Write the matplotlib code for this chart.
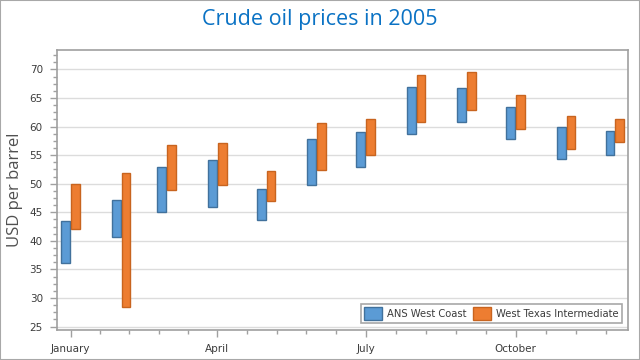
import datetime as dt
import matplotlib
matplotlib.use("Agg")
import matplotlib.pyplot as plt
import matplotlib.dates as mdates
from matplotlib.patches import Rectangle
from matplotlib.ticker import MultipleLocator, FixedLocator

months = ["January", "February", "March", "April", "May", "June",
          "July", "August", "September", "October", "November", "December"]
ans_low = [36.1, 40.7, 45.0, 46.0, 43.7, 49.8, 52.9, 58.75, 60.85, 57.75, 54.26, 55.1]
ans_high = [43.4, 47.1, 52.9, 54.1, 49.0, 57.9, 59.0, 67.0, 66.7, 63.35, 60.0, 59.15]
wti_low = [42.1, 28.4, 48.95, 49.7, 46.9, 52.45, 54.95, 60.85, 62.95, 59.6, 56.1, 57.35]
wti_high = [49.9, 51.8, 56.7, 57.2, 52.2, 60.55, 61.25, 68.95, 69.5, 65.45, 61.8, 61.25]
series_names = ["ANS West Coast", "West Texas Intermediate"]
major_labels = ["January", "April", "July", "October"]

dates = [dt.datetime(2005, i + 1, 1) for i in range(12)]
xnum = mdates.date2num(dates)

fig = plt.figure(figsize=(6.4, 3.6), dpi=100)
fig.patch.set_facecolor("white")
fig.patches.append(Rectangle((0, 0), 1, 1, transform=fig.transFigure,
                             fill=False, edgecolor="#A8A8A8", linewidth=1.5))
ax = fig.add_axes([56.7 / 640, 1 - 330 / 360, (628 - 56.7) / 640, 280 / 360])

bw = 5.4
off = 3.0
blue, blue_e = "#5B9BD5", "#41719C"
orange, orange_e = "#ED7D31", "#C8641F"
ax.bar(xnum - off, [h - l for h, l in zip(ans_high, ans_low)], bottom=ans_low,
       width=bw, color=blue, edgecolor=blue_e, linewidth=1, label=series_names[0], zorder=3)
ax.bar(xnum + off, [h - l for h, l in zip(wti_high, wti_low)], bottom=wti_low,
       width=bw, color=orange, edgecolor=orange_e, linewidth=1, label=series_names[1], zorder=3)

x0 = xnum[0]
ax.set_xlim(x0 - 8.5, x0 + 342)
ax.set_ylim(24.4, 73.4)

# x ticks: quarterly majors, 5 intervals per quarter
qdates = [dt.datetime(2005, m, 1) for m in (1, 4, 7, 10)] + [dt.datetime(2006, 1, 1)]
qn = mdates.date2num(qdates)
ax.set_xticks(qn[:4])
ax.set_xticklabels(major_labels)
minors = []
for a, b in zip(qn[:-1], qn[1:]):
    for k in range(1, 5):
        minors.append(a + (b - a) * k / 5)
ax.xaxis.set_minor_locator(FixedLocator(minors))

ax.yaxis.set_major_locator(MultipleLocator(5))
ax.yaxis.set_minor_locator(MultipleLocator(1.25))
ax.grid(axis="y", which="major", color="#DCDCDC", linewidth=1, zorder=0)
ax.set_axisbelow(True)

axis_col = "#A0A0A0"
for s in ax.spines.values():
    s.set_color(axis_col)
    s.set_linewidth(1.2)
ax.tick_params(axis="both", which="major", color=axis_col, labelcolor="#3C3C3C",
               labelsize=7.5, length=5, width=1)
ax.tick_params(axis="both", which="minor", color=axis_col, length=3, width=1)
ax.tick_params(axis="y", pad=5)
ax.tick_params(axis="x", pad=5)

ax.set_ylabel("USD per barrel", fontsize=12, color="#505050", family="Open Sans",
              va="center")
ax.yaxis.set_label_coords((15 - 56.7) / 571.3, 0.5)

fig.text(0.5, 1 - 20 / 360, "Crude oil prices in 2005", ha="center", va="center",
         fontsize=15.5, color="#0A72C4", family="Open Sans")

leg = ax.legend(loc="lower right", bbox_to_anchor=(1 - 6.5 / 571.3, 7 / 280), ncol=2,
                fontsize=7.2, frameon=True, fancybox=False, framealpha=1,
                edgecolor="#A8A8A8", handlelength=1.77, handleheight=1.6,
                handletextpad=0.5, columnspacing=0.7, borderpad=0.3,
                borderaxespad=0)
leg.get_frame().set_linewidth(1.2)
for t in leg.get_texts():
    t.set_color("#3C3C3C")

fig.savefig("out.png", dpi=100)
